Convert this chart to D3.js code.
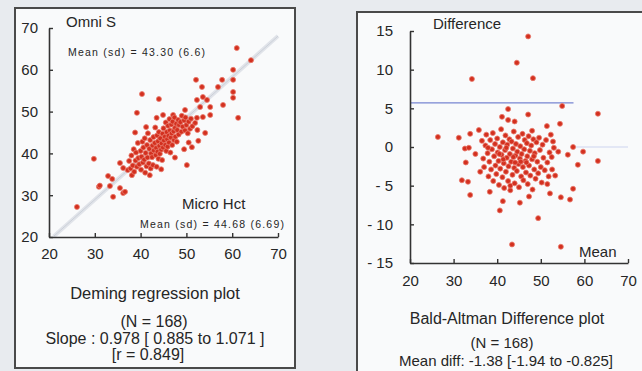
<!DOCTYPE html>
<html>
<head>
<meta charset="utf-8">
<script src="https://cdn.jsdelivr.net/npm/d3@7"></script>
<style>
  html, body { margin: 0; padding: 0; background: #e8ebef; }
  svg { display: block; font-family: "Liberation Sans", Arial, sans-serif; }
</style>
</head>
<body>
<div id="root"></div>
<script>
// Deming plot: Micro Hct (x) vs Omni S (y)
const demingPoints = [
  [26.1,27.2],[29.8,38.7],[30.9,32.0],[31.1,32.3],[32.9,34.6],[33.3,32.2],[33.8,33.9],[34.0,29.6],
  [35.5,37.7],[35.5,31.7],[36.2,36.5],[36.2,30.5],[36.6,30.8],[37.2,36.0],[38.1,34.8],[39.2,49.7],
  [40.3,54.2],[44.0,53.0],[44.9,49.2],[47.1,49.2],[49.7,50.4],[50.1,37.2],[51.2,41.5],[52.1,57.6],
  [53.4,55.9],[52.3,52.8],[53.6,53.5],[54.5,52.8],[53.0,51.1],[55.2,51.1],[52.3,48.5],[53.6,48.7],
  [55.2,49.2],[54.1,44.9],[56.9,55.9],[57.8,57.6],[58.0,51.6],[60.2,60.0],[60.2,57.6],[60.2,54.7],
  [60.2,53.3],[61.0,65.2],[61.3,48.5],[64.1,62.3],
  [37.5,38.2],[37.8,36.4],[38.0,39.5],[38.3,37.1],[38.5,41.0],[38.6,35.6],[38.9,38.3],[39.0,40.2],
  [39.2,36.8],[39.4,42.5],[39.5,38.9],[39.7,37.4],[38.8,45.0],[40.0,40.6],[40.1,36.1],[40.2,39.2],
  [40.4,42.8],[40.5,37.8],[40.6,41.4],[40.8,38.5],[40.9,43.6],[41.0,35.4],[41.1,40.1],[41.3,36.9],
  [41.4,42.0],[41.5,39.0],[41.6,44.8],[41.8,37.6],[41.9,41.1],[42.0,34.8],[42.1,43.2],[42.2,36.4],
  [42.3,40.0],[41.2,46.3],[42.5,39.1],[42.6,41.9],[42.7,37.2],[42.8,43.9],[42.9,40.7],[44.5,36.2],
  [43.1,42.5],[43.2,46.2],[43.3,39.6],[43.4,41.3],[43.5,36.8],[43.6,44.3],[43.7,40.4],[43.8,42.9],
  [43.9,38.7],[44.0,45.1],[44.1,41.8],[44.2,39.9],[44.3,43.6],[43.5,48.5],[44.5,40.9],[44.6,42.4],
  [44.7,38.4],[44.8,44.7],[44.9,41.4],[45.0,46.0],[45.1,43.1],[47.5,39.0],[45.3,44.0],[45.4,42.0],
  [45.5,47.4],[45.6,40.6],[45.7,45.1],[45.8,43.4],[45.9,41.6],[46.0,46.6],[46.1,44.2],[46.2,42.6],
  [46.3,48.2],[46.4,45.5],[46.5,40.2],[46.6,43.8],[46.7,46.9],[46.8,44.8],[46.9,42.0],[47.0,47.6],
  [47.2,45.3],[47.3,43.2],[47.4,48.6],[47.5,46.1],[47.6,44.0],[47.8,47.1],[47.9,42.8],[48.0,45.6],
  [48.2,48.0],[48.3,44.5],[48.4,46.8],[49.5,41.0],[48.7,47.5],[48.9,45.2],[49.0,49.0],[49.2,46.4],
  [50.5,42.6],[49.5,47.9],[49.7,45.5],[49.8,48.6],[50.0,46.8],[50.3,44.8],[50.5,47.6],[50.8,45.9],
  [51.0,48.3],[51.3,46.5],[52.6,43.0],[51.9,47.3],[52.4,45.6]
];

// Bland-Altman plot: mean vs difference
const baPoints = [
  [47.1,14.3],[44.5,10.9],[34.2,8.8],[48.2,8.9],[42.5,4.9],[54.9,5.3],[63.1,4.3],[47.1,4.2],
  [41.1,3.9],[42.5,3.5],[44.0,3.3],[54.4,3.0],[51.4,2.7],[26.4,1.3],[31.2,1.2],[33.8,1.7],
  [35.8,2.2],[48.0,2.1],[52.8,0.7],[57.4,0.0],[59.7,-0.6],[63.1,-1.8],[58.5,-2.3],[56.2,-1.0],
  [54.0,-0.6],[52.5,-1.3],[53.3,-3.7],[57.4,-5.4],[56.7,-6.8],[54.6,-6.5],[52.1,-6.0],[51.5,-4.8],
  [49.4,-9.2],[40.6,-8.2],[41.3,-7.0],[45.2,-7.2],[47.3,-6.4],[43.0,-5.6],[38.3,-5.8],[33.8,-6.2],
  [31.9,-4.3],[33.3,-4.5],[32.8,-2.0],[32.6,-0.2],[33.5,-0.1],[35.0,-0.9],[36.1,-3.2],[43.4,-12.6],
  [54.6,-12.9],
  [36.5,0.8],[36.8,-1.5],[37.0,-2.6],[37.3,0.2],[37.5,1.6],[37.8,-0.8],[38.0,-3.8],[38.2,-1.9],
  [38.4,0.9],[38.6,-2.9],[38.8,-0.3],[39.0,1.8],[39.1,-4.4],[39.3,-1.2],[39.5,0.4],[39.6,-2.4],
  [39.8,-3.5],[40.0,1.1],[40.1,-0.7],[40.3,-1.8],[40.4,-4.9],[40.6,0.0],[40.7,-2.8],[40.9,2.3],
  [41.0,-1.0],[41.2,-3.9],[41.3,0.6],[41.5,-2.1],[41.6,-5.3],[41.8,-0.4],[41.9,1.5],[42.0,-3.2],
  [42.2,-1.4],[42.3,0.3],[42.5,-4.4],[42.6,-2.5],[42.8,1.0],[42.9,-0.9],[43.0,-5.0],[43.2,-1.9],
  [43.3,0.7],[43.5,-3.6],[43.6,-0.2],[43.8,2.0],[43.9,-2.7],[44.0,-4.7],[44.2,-1.1],[44.3,0.4],
  [44.5,-3.1],[44.6,-0.6],[44.8,1.3],[44.9,-2.2],[45.0,-5.2],[45.2,-1.5],[45.3,0.1],[45.5,-3.8],
  [45.6,-0.9],[45.8,1.7],[45.9,-2.6],[46.0,-4.3],[46.2,-0.3],[46.3,0.9],[46.5,-1.8],[46.6,-3.3],
  [46.8,0.5],[46.9,-1.2],[47.0,-4.8],[47.2,1.4],[47.3,-2.4],[47.5,-0.5],[47.6,-3.7],[47.8,0.2],
  [48.0,-1.6],[48.1,-5.5],[48.3,1.0],[48.5,-2.9],[48.6,-0.8],[48.8,-4.1],[49.0,0.6],[49.2,-1.9],
  [49.4,-3.4],[49.6,1.2],[49.8,-0.4],[50.0,-2.6],[50.2,-4.6],[50.4,0.3],[50.6,-1.4],[50.9,-3.0],
  [51.2,0.9],[51.5,-2.0],[51.8,-3.8],[52.0,-0.7],[52.3,1.6],[52.6,-2.9],[53.0,-0.1],[37.9,-0.1],
  [40.5,-0.9],[42.1,-0.1],[44.1,-2.0],[45.4,-1.9],[46.7,-2.0],[48.4,-1.2],[43.7,-1.3],[41.4,-1.6]
];

const demingXTicks = [20, 30, 40, 50, 60, 70];
const demingYTicks = [20, 30, 40, 50, 60, 70];
const baXTicks = [20, 30, 40, 50, 60, 70];
const baYTicks = [15, 10, 5, 0, -5, -10, -15];

const demingSlope = 0.978;
const meanX = 44.68, meanY = 43.30;
const upperLimit = 5.7;

const width = 642, height = 371;
const dotColor = "#d3301f";
const ink = "#262626";

const svg = d3.select("#root").append("svg")
  .attr("width", width)
  .attr("height", height);

svg.append("rect").attr("width", width).attr("height", height).attr("fill", "#e8ebef");

// panels
svg.append("rect")
  .attr("x", 15).attr("y", 8).attr("width", 280).attr("height", 360)
  .attr("fill", "#f9fafb").attr("stroke", "#4a4a4a").attr("stroke-width", 2);
svg.append("rect")
  .attr("x", 357).attr("y", 12).attr("width", 300).attr("height", 370)
  .attr("fill", "#f9fafb").attr("stroke", "#4a4a4a").attr("stroke-width", 2);

// ---------- Deming regression ----------
const x1 = d3.scaleLinear().domain([20, 70]).range([49, 278]);
const y1 = d3.scaleLinear().domain([20, 70]).range([237, 28]);

const g1 = svg.append("g");

// regression line
const regX = [21, 70];
const regLine = d3.line()
  .x(d => x1(d))
  .y(d => y1(meanY + demingSlope * (d - meanX)));
g1.append("path").datum(regX)
  .attr("d", regLine).attr("fill", "none")
  .attr("stroke", "#e0e3e9").attr("stroke-width", 4);
g1.append("path").datum(regX)
  .attr("d", regLine).attr("fill", "none")
  .attr("stroke", "#c6cbd4").attr("stroke-width", 0.8);

const styleAxis = (sel) => {
  sel.select(".domain").attr("stroke", "#333").attr("stroke-width", 1.6);
  sel.selectAll(".tick line").attr("stroke", "#333").attr("stroke-width", 1.4);
  sel.selectAll(".tick text")
    .attr("fill", ink).style("font-size", "15px")
    .style("font-family", "'Liberation Sans', Arial, sans-serif");
};

g1.append("g")
  .attr("transform", "translate(49,0)")
  .call(d3.axisLeft(y1).tickValues(demingYTicks).tickSize(-4).tickSizeOuter(0).tickPadding(11))
  .call(styleAxis);
g1.append("g")
  .attr("transform", "translate(0,237)")
  .call(d3.axisBottom(x1).tickValues(demingXTicks).tickSize(-4).tickSizeOuter(0).tickPadding(11))
  .call(styleAxis);

g1.selectAll("circle.pt")
  .data(demingPoints)
  .join("circle")
    .attr("class", "pt")
    .attr("cx", d => x1(d[0]))
    .attr("cy", d => y1(d[1]))
    .attr("r", 2.5)
    .attr("fill", dotColor)
    .attr("stroke", "#e87a6c").attr("stroke-width", 0.8);

const txt = (g, s, x, y, size, anchor = "start") =>
  g.append("text").text(s)
    .attr("x", x).attr("y", y)
    .attr("text-anchor", anchor)
    .attr("fill", ink)
    .style("font-size", size + "px");

txt(g1, "Omni S", 66, 27, 15);
txt(g1, "Mean (sd) = 43.30 (6.6)", 68, 56, 10.5).attr("textLength", 137);
txt(g1, "Micro Hct", 182, 209, 15);
txt(g1, "Mean (sd) = 44.68 (6.69)", 140, 228, 10.5).attr("textLength", 144);
txt(g1, "Deming regression plot", 155, 299, 16.5, "middle");
txt(g1, "(N = 168)", 154, 327, 16, "middle");
txt(g1, "Slope : 0.978 [ 0.885 to 1.071 ]", 155, 344, 16, "middle");
txt(g1, "[r = 0.849]", 148, 360, 16, "middle");

// ---------- Bland-Altman ----------
const x2 = d3.scaleLinear().domain([20, 70]).range([410, 628]);
const y2 = d3.scaleLinear().domain([-15, 15]).range([263, 31]);

const g2 = svg.append("g");

g2.append("line")
  .attr("x1", x2(20)).attr("x2", x2(57.5))
  .attr("y1", y2(upperLimit)).attr("y2", y2(upperLimit))
  .attr("stroke", "#7785d2").attr("stroke-width", 1.1);
g2.append("line")
  .attr("x1", x2(57.5)).attr("x2", x2(70))
  .attr("y1", y2(0)).attr("y2", y2(0))
  .attr("stroke", "#cdd3ef").attr("stroke-width", 1.1);

g2.append("g")
  .attr("transform", "translate(410,0)")
  .call(d3.axisLeft(y2).tickValues(baYTicks)
    .tickFormat(d => d < 0 ? "- " + Math.abs(d) : d)
    .tickSize(-4).tickSizeOuter(0).tickPadding(17))
  .call(styleAxis);
g2.append("g")
  .attr("transform", "translate(0,263)")
  .call(d3.axisBottom(x2).tickValues(baXTicks).tickSize(-4).tickSizeOuter(0).tickPadding(12))
  .call(styleAxis);

g2.selectAll("circle.pt")
  .data(baPoints)
  .join("circle")
    .attr("class", "pt")
    .attr("cx", d => x2(d[0]))
    .attr("cy", d => y2(d[1]))
    .attr("r", 2.5)
    .attr("fill", dotColor)
    .attr("stroke", "#e87a6c").attr("stroke-width", 0.8);

txt(g2, "Difference", 433, 29, 15);
txt(g2, "Mean", 579, 257, 15);
txt(g2, "Bald-Altman Difference plot", 507, 324, 16, "middle");
txt(g2, "(N = 168)", 502, 348, 15, "middle");
txt(g2, "Mean diff: -1.38 [-1.94 to -0.825]", 506, 366, 15, "middle");
</script>
</body>
</html>
